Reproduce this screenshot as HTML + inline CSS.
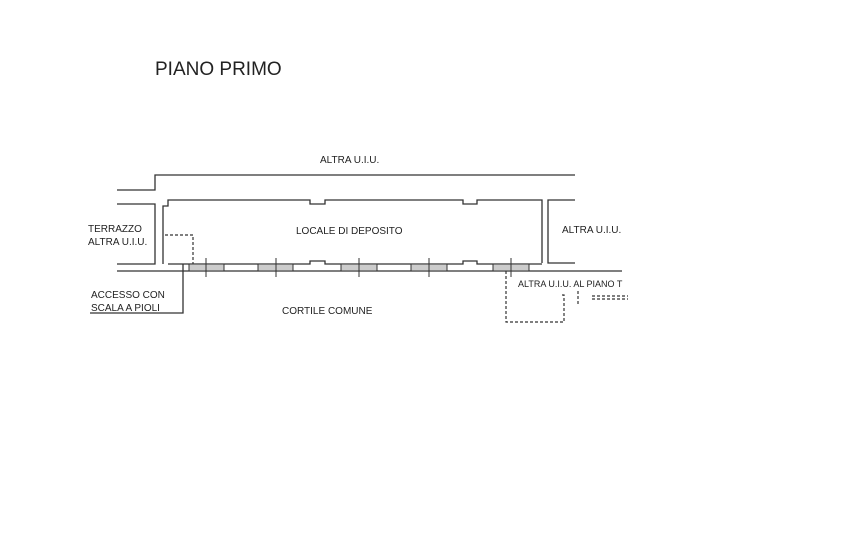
<!DOCTYPE html>
<html><head><meta charset="utf-8"><style>
html,body{margin:0;padding:0;background:#fff;}
svg{display:block}
text{font-family:"Liberation Sans",sans-serif;fill:#222;}
</style></head><body>
<svg width="853" height="560" viewBox="0 0 853 560" xmlns="http://www.w3.org/2000/svg">
<rect width="853" height="560" fill="#fff"/>
<text x="155" y="75" font-size="19">PIANO PRIMO</text>
<g stroke="#333" stroke-width="1.3" fill="none">
<polyline points="117,190 155,190 155,175 575,175"/>
<polyline points="117,204 155,204 155,264 117,264"/>
<polyline points="163,264 163,206 168,206 168,200 310,200 310,204 325,204 325,200 463,200 463,204 477,204 477,200 542,200 542,263"/>
<polyline points="168,264 310,264 310,261 325,261 325,264 463,264 463,261 477,261 477,264 542,264"/>
<polyline points="575,200 548,200 548,263 575,263"/>
<line x1="117" y1="271" x2="622" y2="271"/>
<polyline points="183,264 183,313 90,313"/>
</g>
<g stroke="#333" stroke-width="1" fill="#ccc">
<rect x="189" y="264" width="35" height="7"/>
<rect x="258" y="264" width="35" height="7"/>
<rect x="341" y="264" width="36" height="7"/>
<rect x="411" y="264" width="36" height="7"/>
<rect x="493" y="264" width="36" height="7"/>
</g>
<g stroke="#333" stroke-width="1">
<line x1="206" y1="258" x2="206" y2="277"/>
<line x1="276" y1="258" x2="276" y2="277"/>
<line x1="359" y1="258" x2="359" y2="277"/>
<line x1="429" y1="258" x2="429" y2="277"/>
<line x1="511" y1="258" x2="511" y2="277"/>
</g>
<g stroke="#333" stroke-width="1.2" fill="none" stroke-dasharray="3,2">
<polyline points="165,235 193,235 193,264"/>
<polyline points="506,271 506,322 564,322 564,295 560,295"/>
<line x1="578" y1="291" x2="578" y2="305"/>
<line x1="592" y1="296" x2="628" y2="296"/>
<line x1="592" y1="299" x2="628" y2="299"/>
</g>
<g font-size="10">
<text x="320" y="163">ALTRA U.I.U.</text>
<text x="296" y="234">LOCALE DI DEPOSITO</text>
<text x="562" y="233">ALTRA U.I.U.</text>
<text x="88" y="232">TERRAZZO</text>
<text x="88" y="245">ALTRA U.I.U.</text>
<text x="91" y="298">ACCESSO CON</text>
<text x="91" y="311">SCALA A PIOLI</text>
<text x="282" y="314">CORTILE COMUNE</text>
<text x="518" y="287" font-size="9">ALTRA U.I.U. AL PIANO T</text>
</g>
</svg>
</body></html>
